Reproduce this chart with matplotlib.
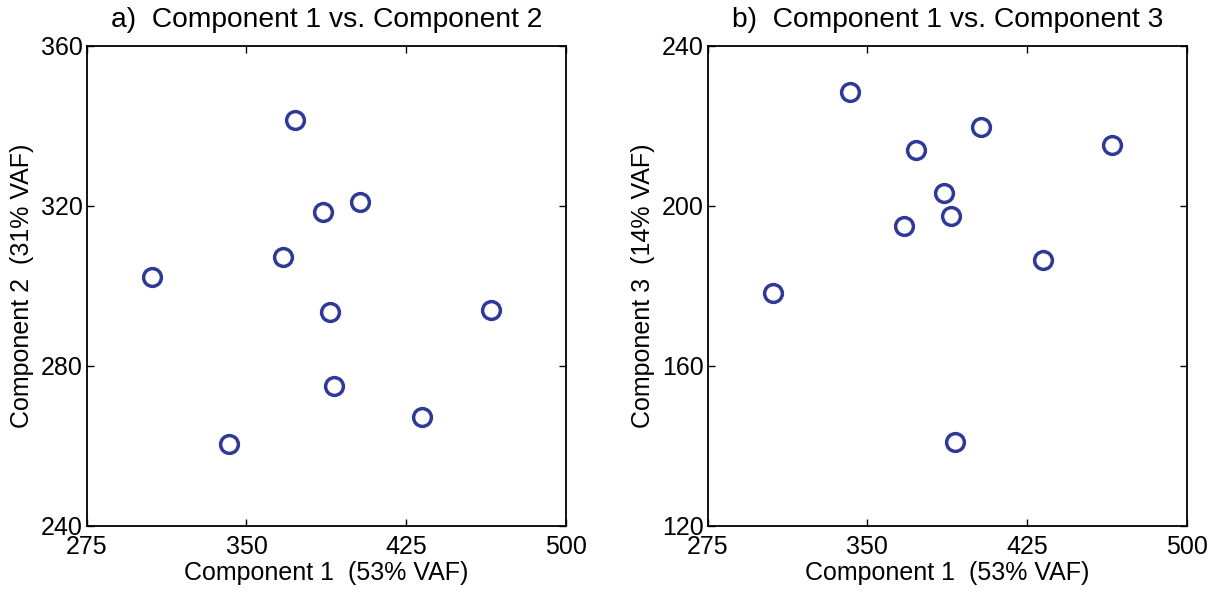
import numpy as np
import matplotlib.pyplot as plt

plt.rcParams['font.family'] = ['Liberation Sans', 'DejaVu Sans']

# component scores
comp1 = [305.5, 341.7, 367.0, 372.8, 385.9, 389.1, 391.1, 403.3, 432.4, 464.7]
comp2 = [302.2, 260.3, 307.2, 341.4, 318.5, 293.5, 274.9, 320.8, 267.1, 293.8]
comp3 = [178.1, 228.4, 194.8, 213.8, 203.2, 197.3, 140.8, 219.6, 186.4, 215.1]

x_ticks = [275, 350, 425, 500]
y2_ticks = [240, 280, 320, 360]
y3_ticks = [120, 160, 200, 240]

panels = [
    ('a)  Component 1 vs. Component 2', comp2, y2_ticks, 'Component 2  (31% VAF)'),
    ('b)  Component 1 vs. Component 3', comp3, y3_ticks, 'Component 3  (14% VAF)'),
]

fig = plt.figure(figsize=(12.15, 5.91), dpi=100)
lefts = [0.0714, 0.5825]

for left, (title, yvals, yticks, ylab) in zip(lefts, panels):
    ax = fig.add_axes([left, 0.1105, 0.3943, 0.8125])
    ax.plot(comp1, yvals, 'o', ls='none', ms=12.8, mfc='none',
            mec='#2f3a98', mew=2.5)
    ax.set_xlim(x_ticks[0], x_ticks[-1])
    ax.set_ylim(yticks[0], yticks[-1])
    ax.set_xticks(x_ticks)
    ax.set_yticks(yticks)
    ax.tick_params(direction='in', top=True, right=True, length=5, width=1,
                   labelsize=18)
    ax.tick_params(axis='x', pad=7)
    ax.tick_params(axis='y', pad=3)
    for s in ax.spines.values():
        s.set_linewidth(1.3)
    ax.set_title(title, fontsize=20.3, pad=13.5)
    ax.set_xlabel('Component 1  (53% VAF)', fontsize=18, labelpad=1)
    ax.set_ylabel(ylab, fontsize=18, labelpad=5)

fig.savefig('out.png', dpi=100)
